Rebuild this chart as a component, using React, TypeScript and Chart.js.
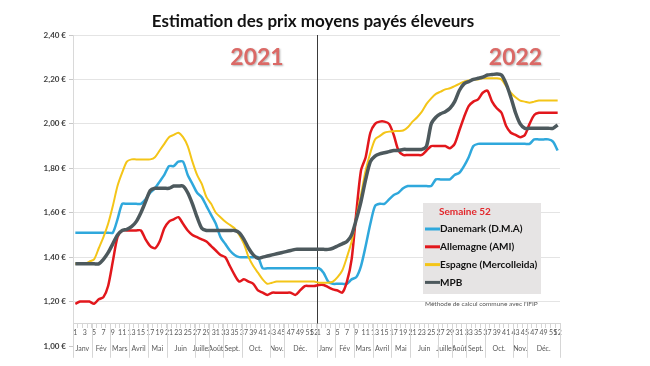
import React, { useEffect, useRef } from "react";
import { Chart, registerables } from "chart.js";

Chart.register(...registerables);

const TITLE = "Estimation des prix moyens payés éleveurs";
const YEAR_LABELS = ["2021", "2022"];
const LEGEND_TITLE = "Semaine 52";
const NOTE = "Méthode de calcul commune avec l'IFIP";

const WEEKS = [
  "1", "2", "3", "4", "5", "6", "7", "8", "9", "10", "11", "12", "13",
  "14", "15", "16", "17", "18", "19", "20", "21", "22", "23", "24", "25", "26",
  "27", "28", "29", "30", "31", "32", "33", "34", "35", "36", "37", "38", "39",
  "40", "41", "42", "43", "44", "45", "46", "47", "48", "49", "50", "51", "52",
];
const CATEGORIES = [...WEEKS, ...WEEKS];

const MONTHS = ["Janv", "Fév", "Mars", "Avril", "Mai", "Juin", "Juillet", "Août", "Sept.", "Oct.", "Nov.", "Déc."];
const MONTH_START_WEEK = [1, 5, 9, 13, 17, 21, 27, 30, 33, 37, 43, 46];

const DANEMARK_2021 = [
  1.51, 1.51, 1.51, 1.51, 1.51, 1.51, 1.51, 1.51, 1.51, 1.57,
  1.64, 1.64, 1.64, 1.64, 1.64, 1.66, 1.69, 1.71, 1.74, 1.77,
  1.81, 1.81, 1.83, 1.83, 1.77, 1.73, 1.69, 1.67, 1.63, 1.59,
  1.55, 1.49, 1.46, 1.43, 1.41, 1.40, 1.40, 1.40, 1.40, 1.40,
  1.35, 1.35, 1.35, 1.35, 1.35, 1.35, 1.35, 1.35, 1.35, 1.35,
  1.35, 1.35,
];
const DANEMARK_2022 = [
  1.35, 1.33, 1.29, 1.28, 1.28, 1.28, 1.28, 1.30, 1.31, 1.36,
  1.45, 1.55, 1.63, 1.64, 1.64, 1.66, 1.68, 1.69, 1.71, 1.72,
  1.72, 1.72, 1.72, 1.72, 1.72, 1.75, 1.75, 1.75, 1.75, 1.77,
  1.78, 1.81, 1.85, 1.90, 1.91, 1.91, 1.91, 1.91, 1.91, 1.91,
  1.91, 1.91, 1.91, 1.91, 1.91, 1.91, 1.93, 1.93, 1.93, 1.93,
  1.92, 1.88,
];

const ALLEMAGNE_2021 = [
  1.19, 1.20, 1.20, 1.20, 1.19, 1.21, 1.22, 1.27, 1.38, 1.49,
  1.52, 1.52, 1.52, 1.52, 1.52, 1.48, 1.45, 1.44, 1.47, 1.53,
  1.56, 1.57, 1.58, 1.55, 1.52, 1.50, 1.49, 1.48, 1.47, 1.45,
  1.43, 1.41, 1.40, 1.36, 1.32, 1.29, 1.30, 1.29, 1.28, 1.25,
  1.24, 1.23, 1.24, 1.24, 1.24, 1.24, 1.24, 1.23, 1.25, 1.27,
  1.27, 1.27,
];
const ALLEMAGNE_2022 = [
  1.275, 1.275, 1.265, 1.255, 1.25, 1.24, 1.29, 1.39, 1.60, 1.79,
  1.85, 1.96, 2.00, 2.01, 2.01, 2.00, 1.95, 1.88, 1.86, 1.86,
  1.86, 1.86, 1.86, 1.88, 1.90, 1.90, 1.90, 1.90, 1.89, 1.91,
  1.97, 2.03, 2.08, 2.10, 2.11, 2.14, 2.15, 2.10, 2.07, 2.05,
  1.99, 1.96, 1.95, 1.94, 1.95, 2.00, 2.04, 2.05, 2.05, 2.05,
  2.05, 2.05,
];

const ESPAGNE_2021 = [
  1.37, 1.37, 1.37, 1.38, 1.39, 1.44, 1.49, 1.55, 1.63, 1.72,
  1.78, 1.83, 1.84, 1.84, 1.84, 1.84, 1.84, 1.85, 1.88, 1.91,
  1.94, 1.95, 1.96, 1.94, 1.90, 1.83, 1.77, 1.73, 1.67, 1.64,
  1.60, 1.58, 1.56, 1.545, 1.53, 1.50, 1.46, 1.40, 1.36, 1.33,
  1.30, 1.28, 1.285, 1.29, 1.29, 1.29, 1.29, 1.29, 1.29, 1.29,
  1.29, 1.29,
];
const ESPAGNE_2022 = [
  1.285, 1.285, 1.285, 1.29, 1.31, 1.34, 1.40, 1.47, 1.58, 1.68,
  1.79, 1.87, 1.93, 1.945, 1.96, 1.965, 1.967, 1.968, 1.97, 1.985,
  2.01, 2.03, 2.055, 2.09, 2.115, 2.135, 2.145, 2.155, 2.16, 2.17,
  2.18, 2.19, 2.195, 2.20, 2.20, 2.205, 2.205, 2.205, 2.205, 2.20,
  2.17, 2.14, 2.12, 2.105, 2.10, 2.095, 2.10, 2.105, 2.105, 2.105,
  2.105, 2.105,
];

const MPB_2021 = [
  1.37, 1.37, 1.37, 1.37, 1.37, 1.37, 1.39, 1.42, 1.46, 1.50,
  1.52, 1.525, 1.537, 1.56, 1.60, 1.65, 1.70, 1.71, 1.71, 1.71,
  1.71, 1.72, 1.72, 1.72, 1.69, 1.64, 1.58, 1.53, 1.52, 1.52,
  1.52, 1.52, 1.52, 1.52, 1.52, 1.51, 1.48, 1.44, 1.41, 1.395,
  1.40, 1.405, 1.41, 1.415, 1.42, 1.425, 1.43, 1.435, 1.435, 1.435,
  1.435, 1.435,
];
const MPB_2022 = [
  1.435, 1.435, 1.435, 1.44, 1.45, 1.46, 1.47, 1.50, 1.57, 1.65,
  1.75, 1.83, 1.855, 1.865, 1.87, 1.875, 1.88, 1.88, 1.885, 1.885,
  1.885, 1.885, 1.885, 1.90, 2.00, 2.03, 2.045, 2.055, 2.07, 2.10,
  2.15, 2.18, 2.19, 2.20, 2.205, 2.21, 2.22, 2.222, 2.224, 2.22,
  2.18, 2.12, 2.05, 2.00, 1.98, 1.98, 1.98, 1.98, 1.98, 1.98,
  1.98, 1.995,
];

const SERIES_NAMES = ["Danemark (D.M.A)", "Allemagne (AMI)", "Espagne (Mercolleida)", "MPB"];
const SERIES_COLORS = ["#2fa8dc", "#e2171c", "#f4c518", "#4d595d"];
const SERIES_WIDTHS = [2.5, 2.5, 2, 3.5];

const FONT = "Lato, 'Open Sans', sans-serif";

const decorations = {
  id: "decorations",
  beforeDatasetsDraw(chart: any) {
    const { ctx, scales } = chart;
    const x = scales.x;
    const y = scales.y;
    const half = (x.getPixelForValue(1) - x.getPixelForValue(0)) / 2;
    const divX = x.getPixelForValue(52) - half;
    ctx.save();
    ctx.strokeStyle = "#3a3a3a";
    ctx.lineWidth = 1;
    ctx.beginPath();
    ctx.moveTo(Math.round(divX) + 0.5, y.getPixelForValue(2.4));
    ctx.lineTo(Math.round(divX) + 0.5, y.getPixelForValue(1.1));
    ctx.stroke();

    // year labels
    ctx.font = `bold 23px ${FONT}`;
    ctx.textAlign = "center";
    ctx.textBaseline = "middle";
    ctx.shadowColor = "rgba(0,0,0,0.3)";
    ctx.shadowBlur = 2;
    ctx.shadowOffsetX = 1;
    ctx.shadowOffsetY = 1;
    ctx.fillStyle = "#db6966";
    ctx.fillText(YEAR_LABELS[0], x.getPixelForValue(38.8), y.getPixelForValue(2.3));
    ctx.fillText(YEAR_LABELS[1], x.getPixelForValue(94), y.getPixelForValue(2.3));
    ctx.restore();
  },
  afterDraw(chart: any) {
    const { ctx, scales } = chart;
    const x = scales.x;
    const y = scales.y;
    const half = (x.getPixelForValue(1) - x.getPixelForValue(0)) / 2;
    const axisY = y.getPixelForValue(1.1);
    ctx.save();

    // title
    ctx.font = `bold 17px ${FONT}`;
    ctx.fillStyle = "#111";
    ctx.textAlign = "center";
    ctx.textBaseline = "middle";
    ctx.fillText(TITLE, 313, 22);

    // month groups
    ctx.strokeStyle = "#d6d6d6";
    ctx.lineWidth = 1;
    ctx.font = `7px ${FONT}`;
    ctx.fillStyle = "#595959";
    for (let yr = 0; yr < 2; yr++) {
      for (let m = 0; m < 12; m++) {
        const s = yr * 52 + MONTH_START_WEEK[m] - 1;
        const e = m < 11 ? yr * 52 + MONTH_START_WEEK[m + 1] - 1 : yr * 52 + 52;
        const left = x.getPixelForValue(s) - half;
        const right = x.getPixelForValue(e - 1) + half;
        ctx.fillText(MONTHS[m], (left + right) / 2, axisY + 25);
        ctx.beginPath();
        ctx.moveTo(Math.round(left) + 0.5, axisY);
        ctx.lineTo(Math.round(left) + 0.5, axisY + 34);
        ctx.stroke();
        if (yr === 1 && m === 11) {
          ctx.beginPath();
          ctx.moveTo(Math.round(right) + 0.5, axisY);
          ctx.lineTo(Math.round(right) + 0.5, axisY + 34);
          ctx.stroke();
        }
      }
    }

    // legend box
    const bx = 423, by = 203, bw = 118, bh = 91;
    ctx.fillStyle = "#e6e4e4";
    ctx.fillRect(bx, by, bw, bh);
    ctx.textAlign = "left";
    ctx.font = `bold 10px ${FONT}`;
    ctx.fillStyle = "#e2262b";
    ctx.fillText(LEGEND_TITLE, 439, 212);
    chart.data.datasets.forEach((ds: any, i: number) => {
      const cy = 229 + i * 17.8;
      ctx.strokeStyle = ds.borderColor;
      ctx.lineWidth = 3;
      ctx.beginPath();
      ctx.moveTo(425, cy);
      ctx.lineTo(440, cy);
      ctx.stroke();
      ctx.fillStyle = "#111";
      ctx.fillText(ds.label, 440, cy);
    });

    ctx.font = `6.5px ${FONT}`;
    ctx.fillStyle = "#555";
    ctx.fillText(NOTE, 425, 304);
    ctx.restore();
  },
};

export default function App() {
  const ref = useRef<HTMLCanvasElement | null>(null);
  useEffect(() => {
    if (!ref.current) return;
    const all = [
      [...DANEMARK_2021, ...DANEMARK_2022],
      [...ALLEMAGNE_2021, ...ALLEMAGNE_2022],
      [...ESPAGNE_2021, ...ESPAGNE_2022],
      [...MPB_2021, ...MPB_2022],
    ];
    const chart = new Chart(ref.current, {
      type: "line",
      data: {
        labels: CATEGORIES,
        datasets: all.map((d, i) => ({
          label: SERIES_NAMES[i],
          data: d,
          borderColor: SERIES_COLORS[i],
          backgroundColor: SERIES_COLORS[i],
          borderWidth: SERIES_WIDTHS[i],
          pointRadius: 0,
          tension: 0.25,
          fill: false,
          order: 4 - i,
        })),
      },
      options: {
        animation: false,
        responsive: true,
        maintainAspectRatio: false,
        layout: { padding: { left: 0, top: 35, right: 90, bottom: 20 } },
        plugins: {
          legend: { display: false },
          title: { display: false },
          tooltip: { enabled: false },
        },
        scales: {
          x: {
            type: "category",
            position: { y: 1.1 } as any,
            offset: true,
            grid: {
              offset: true,
              drawOnChartArea: false,
              drawTicks: true,
              tickLength: 4,
              color: "#d6d6d6",
            },
            border: { display: true, color: "#d6d6d6" },
            ticks: {
              autoSkip: false,
              maxRotation: 0,
              minRotation: 0,
              padding: 1,
              color: "#595959",
              font: { size: 7, family: FONT },
              callback: (_v: any, idx: number) => {
                const w = Number(CATEGORIES[idx]);
                return w % 2 === 1 || w === 52 ? CATEGORIES[idx] : "";
              },
            },
          },
          y: {
            min: 1.0,
            max: 2.4,
            afterFit: (s: any) => {
              s.width = 73;
            },
            grid: {
              color: (c: any) => (c.tick && c.tick.value < 1.05 ? "rgba(0,0,0,0)" : "#e4e4e4"),
              tickColor: "#c8c8c8",
              tickLength: 4,
            },
            border: { display: true, color: "#d9d9d9" },
            ticks: {
              stepSize: 0.2,
              padding: 3,
              color: "#404040",
              font: { size: 8, weight: "bold", family: FONT },
              callback: (v: any) => Number(v).toFixed(2).replace(".", ",") + " €",
            },
          },
        },
      },
      plugins: [decorations],
    });
    return () => chart.destroy();
  }, []);
  return (
    <div style={{ position: "absolute", left: 0, top: 0, width: 650, height: 366, background: "#fff" }}>
      <canvas ref={ref} />
    </div>
  );
}
